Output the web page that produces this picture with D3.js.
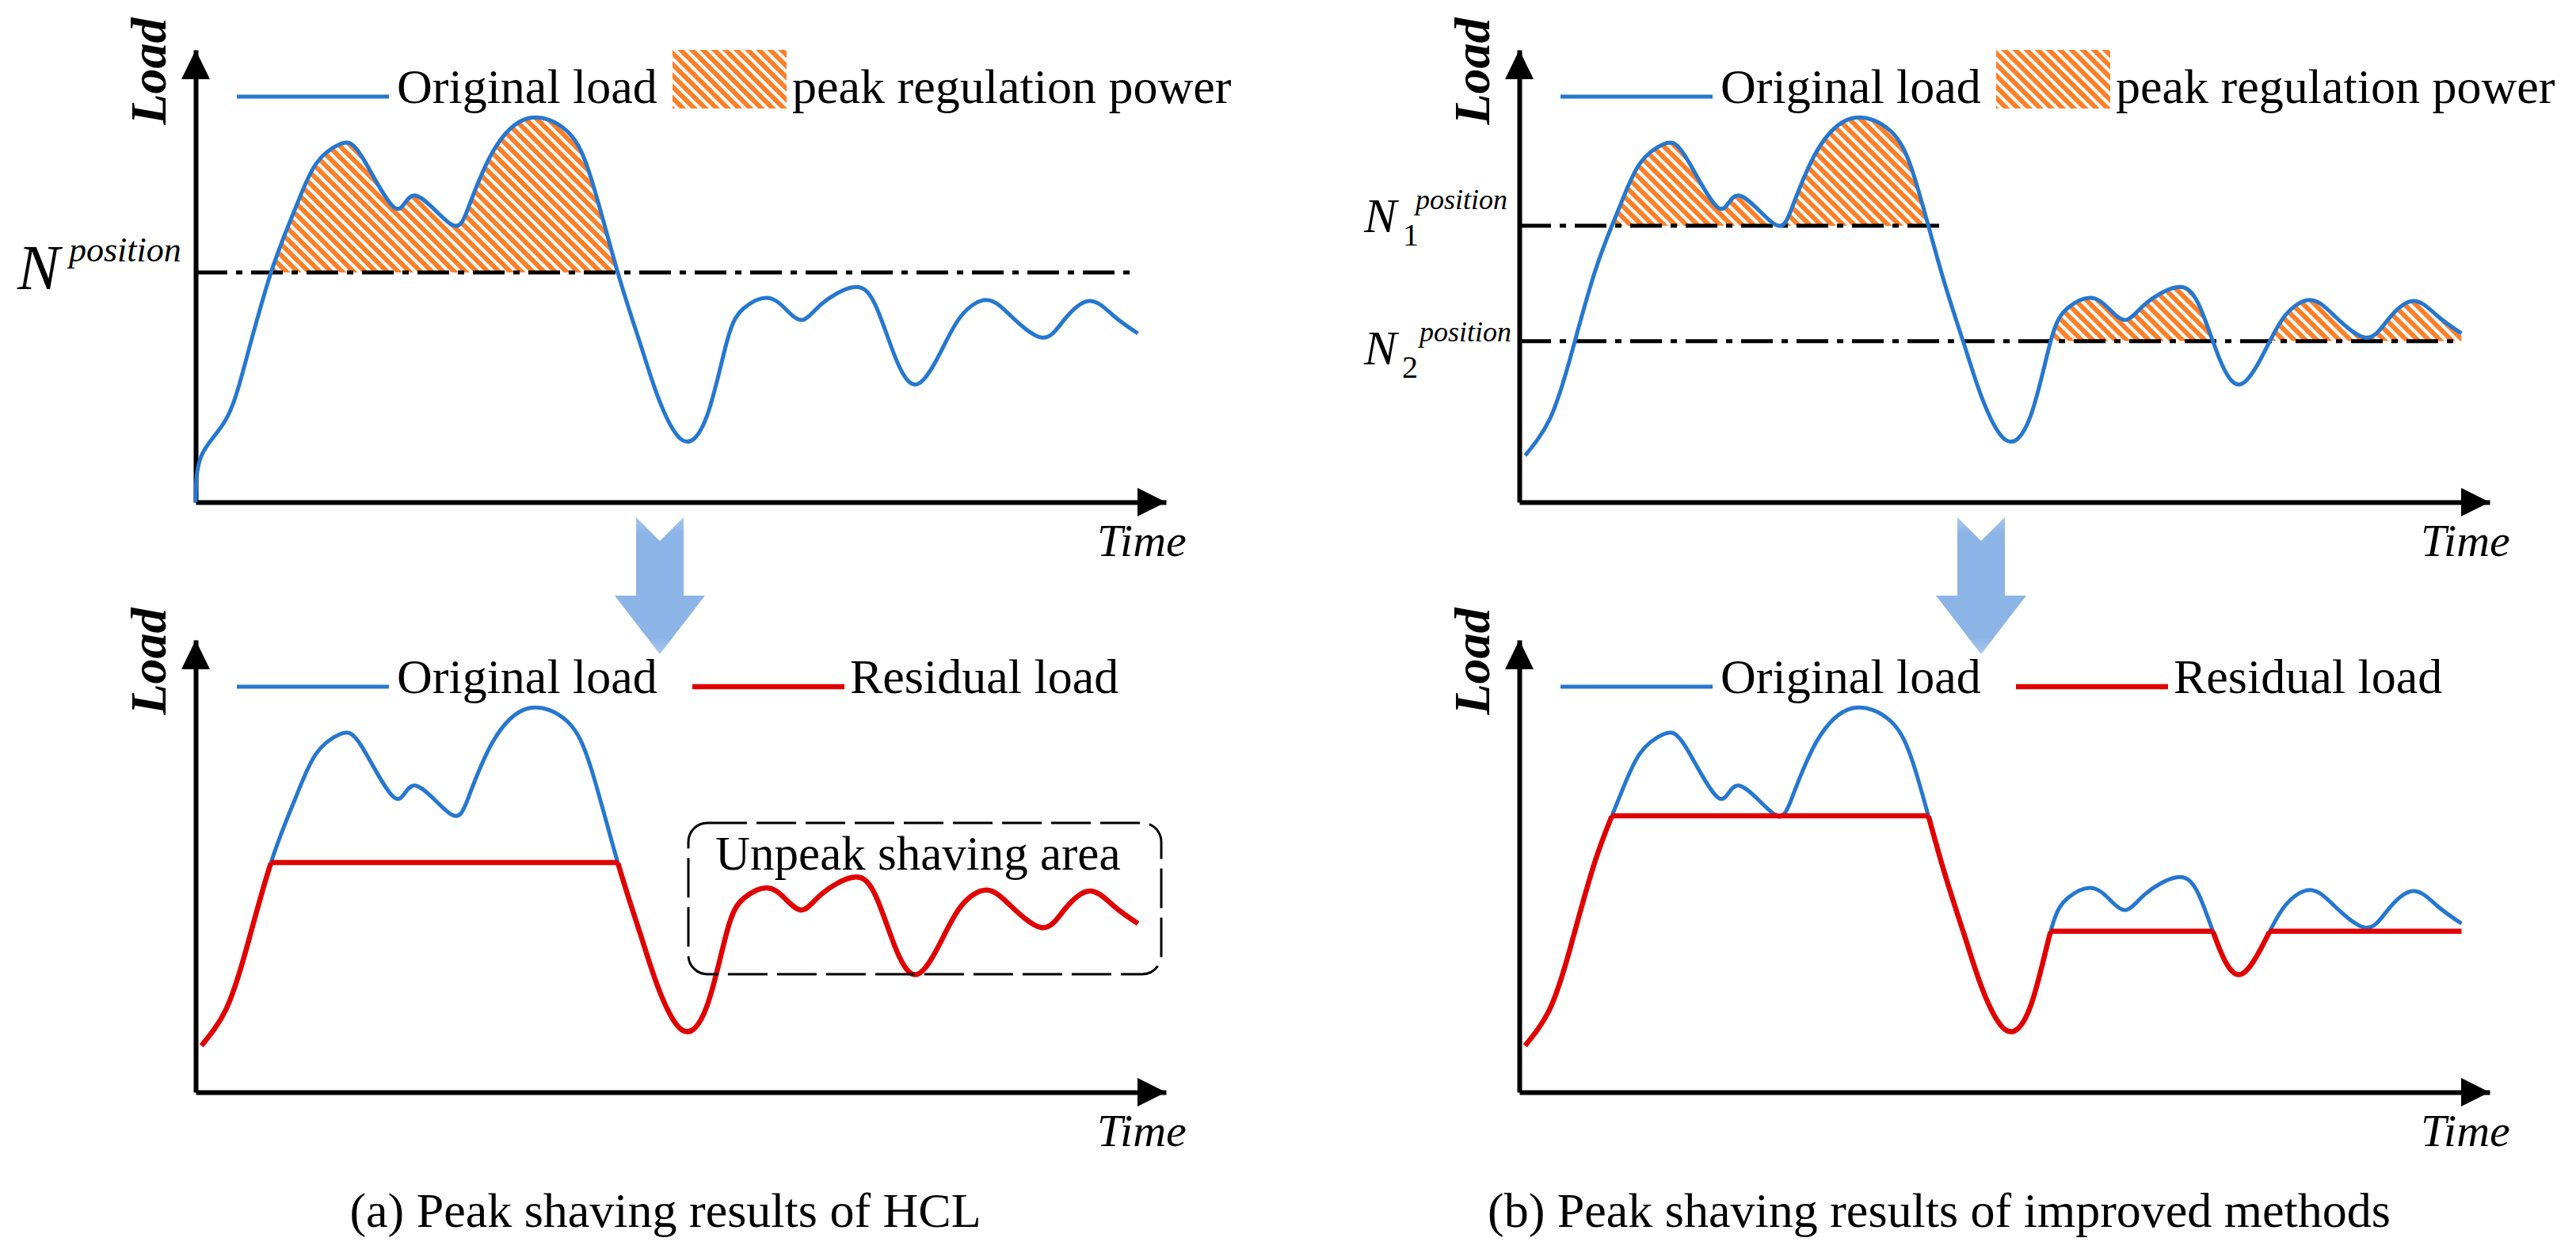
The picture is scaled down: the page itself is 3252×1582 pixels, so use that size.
<!DOCTYPE html>
<html>
<head>
<meta charset="utf-8">
<script src="https://cdn.jsdelivr.net/npm/d3@7"></script>
<style>
  html, body { margin: 0; padding: 0; background: #fff; }
  text { font-family: "Liberation Serif", "Times New Roman", serif; fill: #000; }
</style>
</head>
<body>
<svg id="chart" width="3252" height="1582"></svg>
<script>
// ---------------- data ----------------
const timeVals = [0.6, 3.1, 5.2, 7.8, 10.3, 12.4, 14.9, 17.1, 20.5, 22.6, 26.2, 28.1, 30.6, 34.3, 38.3, 40.8,
  43.5, 45.9, 47.6, 50.1, 52.7, 54.8, 56.5, 58.8, 60.7, 62.5, 64.5, 67.7, 70.0, 72.2, 74.4, 76.8, 78.9,
  81.5, 84.0, 87.2, 89.5, 92.1, 94.6, 97.1];
const loadVals = [10.3, 18.2, 31.5, 51.0, 65.1, 74.8, 79.2, 76.5, 65.1, 67.8, 61.6, 65.1, 77.4, 84.9, 82.0, 71.3,
  50.8, 34.5, 23.5, 13.8, 19.1, 35.9, 42.9, 45.2, 42.9, 40.3, 43.8, 47.5, 43.8, 31.5, 26.1, 33.3, 41.2,
  44.7, 41.2, 36.4, 40.3, 44.5, 41.2, 37.3];
const originPoint = [0, 0];          // panel (a) top starts at the origin
const levelsA = [50.8];              // N^position
const levelsB = [61.1, 35.6];        // N1^position, N2^position
const switchT = 50;                  // where N1 hands over to N2
const nLineEndA = [97.1];
const nLineEndB = [43.6, 96.4];
const legendTop = ["Original load", "peak regulation power"];
const legendBottom = ["Original load", "Residual load"];
const captions = ["(a) Peak shaving results of HCL", "(b) Peak shaving results of improved methods"];
const axisLabels = { y: "Load", x: "Time" };
const boxLabel = "Unpeak shaving area";

// ---------------- styles ----------------
const BLUE = "#2677CF", RED = "#E00000", ORANGE = "#FF7F27", ARROW = "#8DB4E6";

const svg = d3.select("#chart");
svg.append("rect").attr("width", 3252).attr("height", 1582).attr("fill", "#fff");
const defs = svg.append("defs");
const pat = defs.append("pattern").attr("id", "hatch").attr("patternUnits", "userSpaceOnUse")
  .attr("width", 10).attr("height", 10).attr("patternTransform", "rotate(-45)");
pat.append("rect").attr("width", 10).attr("height", 10).attr("fill", "#fff");
pat.append("rect").attr("width", 6).attr("height", 10).attr("fill", ORANGE);

const grad = defs.append("linearGradient").attr("id", "arrowGrad").attr("x1", 0).attr("y1", 0).attr("x2", 0).attr("y2", 1);
grad.append("stop").attr("offset", "0%").attr("stop-color", "#A9C7EE");
grad.append("stop").attr("offset", "12%").attr("stop-color", ARROW);
grad.append("stop").attr("offset", "88%").attr("stop-color", ARROW);
grad.append("stop").attr("offset", "100%").attr("stop-color", "#A9C7EE");

const curveData = timeVals.map((t, i) => ({ t, l: loadVals[i] }));

const x = d3.scaleLinear().domain([0, 100]).range([247, 1472]);
const y = d3.scaleLinear().domain([0, 100]).range([634, 63]);
const cr = d3.curveNatural;
const line = d3.line().x(d => x(d.t)).y(d => y(d.l)).curve(cr);

let clipId = 0;

function drawAxes(g) {
  g.append("g").attr("transform", `translate(0,${y(0)})`)
    .call(d3.axisBottom(x).tickValues([]).tickSizeOuter(0))
    .call(a => a.select(".domain").attr("stroke", "#000").attr("stroke-width", 6));
  g.append("g").attr("transform", `translate(${x(0)},0)`)
    .call(d3.axisLeft(y).tickValues([]).tickSizeOuter(0))
    .call(a => a.select(".domain").attr("stroke", "#000").attr("stroke-width", 6));
  // arrowheads
  const tx = x(100), ty = y(0);
  g.append("path").attr("d", `M${tx},${ty} L${tx - 36},${ty - 18} L${tx - 36},${ty + 18} Z`).attr("fill", "#000");
  const ux = x(0), uy = y(100);
  g.append("path").attr("d", `M${ux},${uy} L${ux - 18},${uy + 37} L${ux + 18},${uy + 37} Z`).attr("fill", "#000");
  g.append("text").attr("transform", `translate(${ux - 38},${uy + 27}) rotate(-90)`)
    .attr("text-anchor", "middle").attr("font-size", 64).attr("font-style", "italic").attr("font-weight", "bold")
    .text(axisLabels.y);
  g.append("text").attr("x", tx - 87).attr("y", ty + 68)
    .attr("font-size", 58).attr("font-style", "italic").text(axisLabels.x);
}

function clipRect(g, x0, y0, x1, y1) {
  const id = "clip" + (clipId++);
  defs.append("clipPath").attr("id", id).append("rect")
    .attr("x", x0).attr("y", y0).attr("width", x1 - x0).attr("height", y1 - y0);
  return `url(#${id})`;
}

function drawTop(g, levels, lineEnds, withOrigin) {
  drawAxes(g);
  const data = withOrigin ? [{ t: originPoint[0], l: originPoint[1] }].concat(curveData) : curveData;
  // hatched peak regulation power
  levels.forEach((lv, i) => {
    const t0 = i === 0 ? 0 : switchT, t1 = (i === levels.length - 1) ? 100 : switchT;
    const area = d3.area().x(d => x(d.t)).y0(y(lv)).y1(d => y(d.l)).curve(cr);
    g.append("path").attr("d", area(data)).attr("fill", "url(#hatch)")
      .attr("clip-path", clipRect(g, x(t0), 0, x(t1), y(lv)));
  });
  // dash-dot lines
  levels.forEach((lv, i) => {
    g.append("line").attr("x1", x(0)).attr("x2", x(lineEnds[i])).attr("y1", y(lv)).attr("y2", y(lv))
      .attr("stroke", "#000").attr("stroke-width", 5).attr("stroke-dasharray", "40,11,8,11");
  });
  g.append("path").attr("d", line(data)).attr("fill", "none").attr("stroke", BLUE).attr("stroke-width", 5);
  // legend
  const lg = g.append("g");
  lg.append("line").attr("x1", 299).attr("x2", 491).attr("y1", 122).attr("y2", 122)
    .attr("stroke", BLUE).attr("stroke-width", 5);
  lg.append("text").attr("x", 501).attr("y", 130).attr("font-size", 62).text(legendTop[0]);
  lg.append("rect").attr("x", 849).attr("y", 63).attr("width", 144).attr("height", 74).attr("fill", "url(#hatch)");
  lg.append("text").attr("x", 1000).attr("y", 130).attr("font-size", 62).text(legendTop[1]);
}

function drawBottom(g, levels) {
  drawAxes(g);
  g.append("path").attr("d", line(curveData)).attr("fill", "none").attr("stroke", BLUE).attr("stroke-width", 5);
  // residual load = min(load, level)
  const under = d3.area().x(d => x(d.t)).y0(y(0)).y1(d => y(d.l) - 3).curve(cr);
  const uid = "clip" + (clipId++);
  defs.append("clipPath").attr("id", uid).append("path").attr("d", under(curveData));
  levels.forEach((lv, i) => {
    const t0 = i === 0 ? 0 : switchT, t1 = (i === levels.length - 1) ? 100 : switchT;
    g.append("path").attr("d", line(curveData)).attr("fill", "none").attr("stroke", RED).attr("stroke-width", 6.5)
      .attr("clip-path", clipRect(g, x(t0), y(lv), x(t1), y(0) + 10));
    g.append("line").attr("x1", x(t0)).attr("x2", x(t1)).attr("y1", y(lv)).attr("y2", y(lv))
      .attr("stroke", RED).attr("stroke-width", 6.5).attr("clip-path", `url(#${uid})`);
  });
  const lg = g.append("g");
  lg.append("line").attr("x1", 299).attr("x2", 491).attr("y1", 122).attr("y2", 122)
    .attr("stroke", BLUE).attr("stroke-width", 5);
  lg.append("text").attr("x", 501).attr("y", 130).attr("font-size", 62).text(legendBottom[0]);
  lg.append("line").attr("x1", 874).attr("x2", 1066).attr("y1", 122).attr("y2", 122)
    .attr("stroke", RED).attr("stroke-width", 6.5);
  lg.append("text").attr("x", 1073).attr("y", 130).attr("font-size", 62).text(legendBottom[1]);
}

function drawArrow(cx) {
  svg.append("path")
    .attr("d", `M${cx - 30},653 L${cx},683 L${cx + 30},653 L${cx + 30},752 L${cx + 57},752 L${cx},826 L${cx - 57},752 L${cx - 30},752 Z`)
    .attr("fill", "url(#arrowGrad)");
}

const OFFB = 1671, OFFY = 745;
const gA = svg.append("g");
drawTop(gA, levelsA, nLineEndA, true);
const gB = svg.append("g").attr("transform", `translate(${OFFB},0)`);
drawTop(gB, levelsB, nLineEndB, false);
const gC = svg.append("g").attr("transform", `translate(0,${OFFY})`);
drawBottom(gC, levelsA);
const gD = svg.append("g").attr("transform", `translate(${OFFB},${OFFY})`);
drawBottom(gD, levelsB);

drawArrow(833);
drawArrow(2501);

// N labels
const na = svg.append("text").attr("font-style", "italic");
na.append("tspan").attr("x", 22).attr("y", 365).attr("font-size", 80).text("N");
na.append("tspan").attr("x", 87).attr("y", 330).attr("font-size", 44).text("position");

function nLabel(yBase, sub, subX, posX) {
  const t = svg.append("text").attr("font-style", "italic");
  t.append("tspan").attr("x", 1722).attr("y", yBase).attr("font-size", 62).text("N");
  t.append("tspan").attr("x", subX).attr("y", yBase + 17).attr("font-size", 40).attr("font-style", "normal").text(sub);
  t.append("tspan").attr("x", posX).attr("y", yBase - 29).attr("font-size", 36).text("position");
}
nLabel(293, "1", 1771, 1787);
nLabel(460, "2", 1770, 1792);

// unpeak shaving box
gC.append("rect").attr("x", 869).attr("y", 1039 - OFFY).attr("width", 1466 - 869).attr("height", 1230 - 1039)
  .attr("rx", 24).attr("fill", "none").attr("stroke", "#000").attr("stroke-width", 3)
  .attr("stroke-dasharray", "50,12");
gC.append("text").attr("x", 903).attr("y", 1098 - OFFY).attr("font-size", 61).text(boxLabel);

// captions
svg.append("text").attr("x", 840).attr("y", 1549).attr("text-anchor", "middle").attr("font-size", 62).text(captions[0]);
svg.append("text").attr("x", 2448).attr("y", 1549).attr("text-anchor", "middle").attr("font-size", 62).text(captions[1]);
</script>
</body>
</html>
